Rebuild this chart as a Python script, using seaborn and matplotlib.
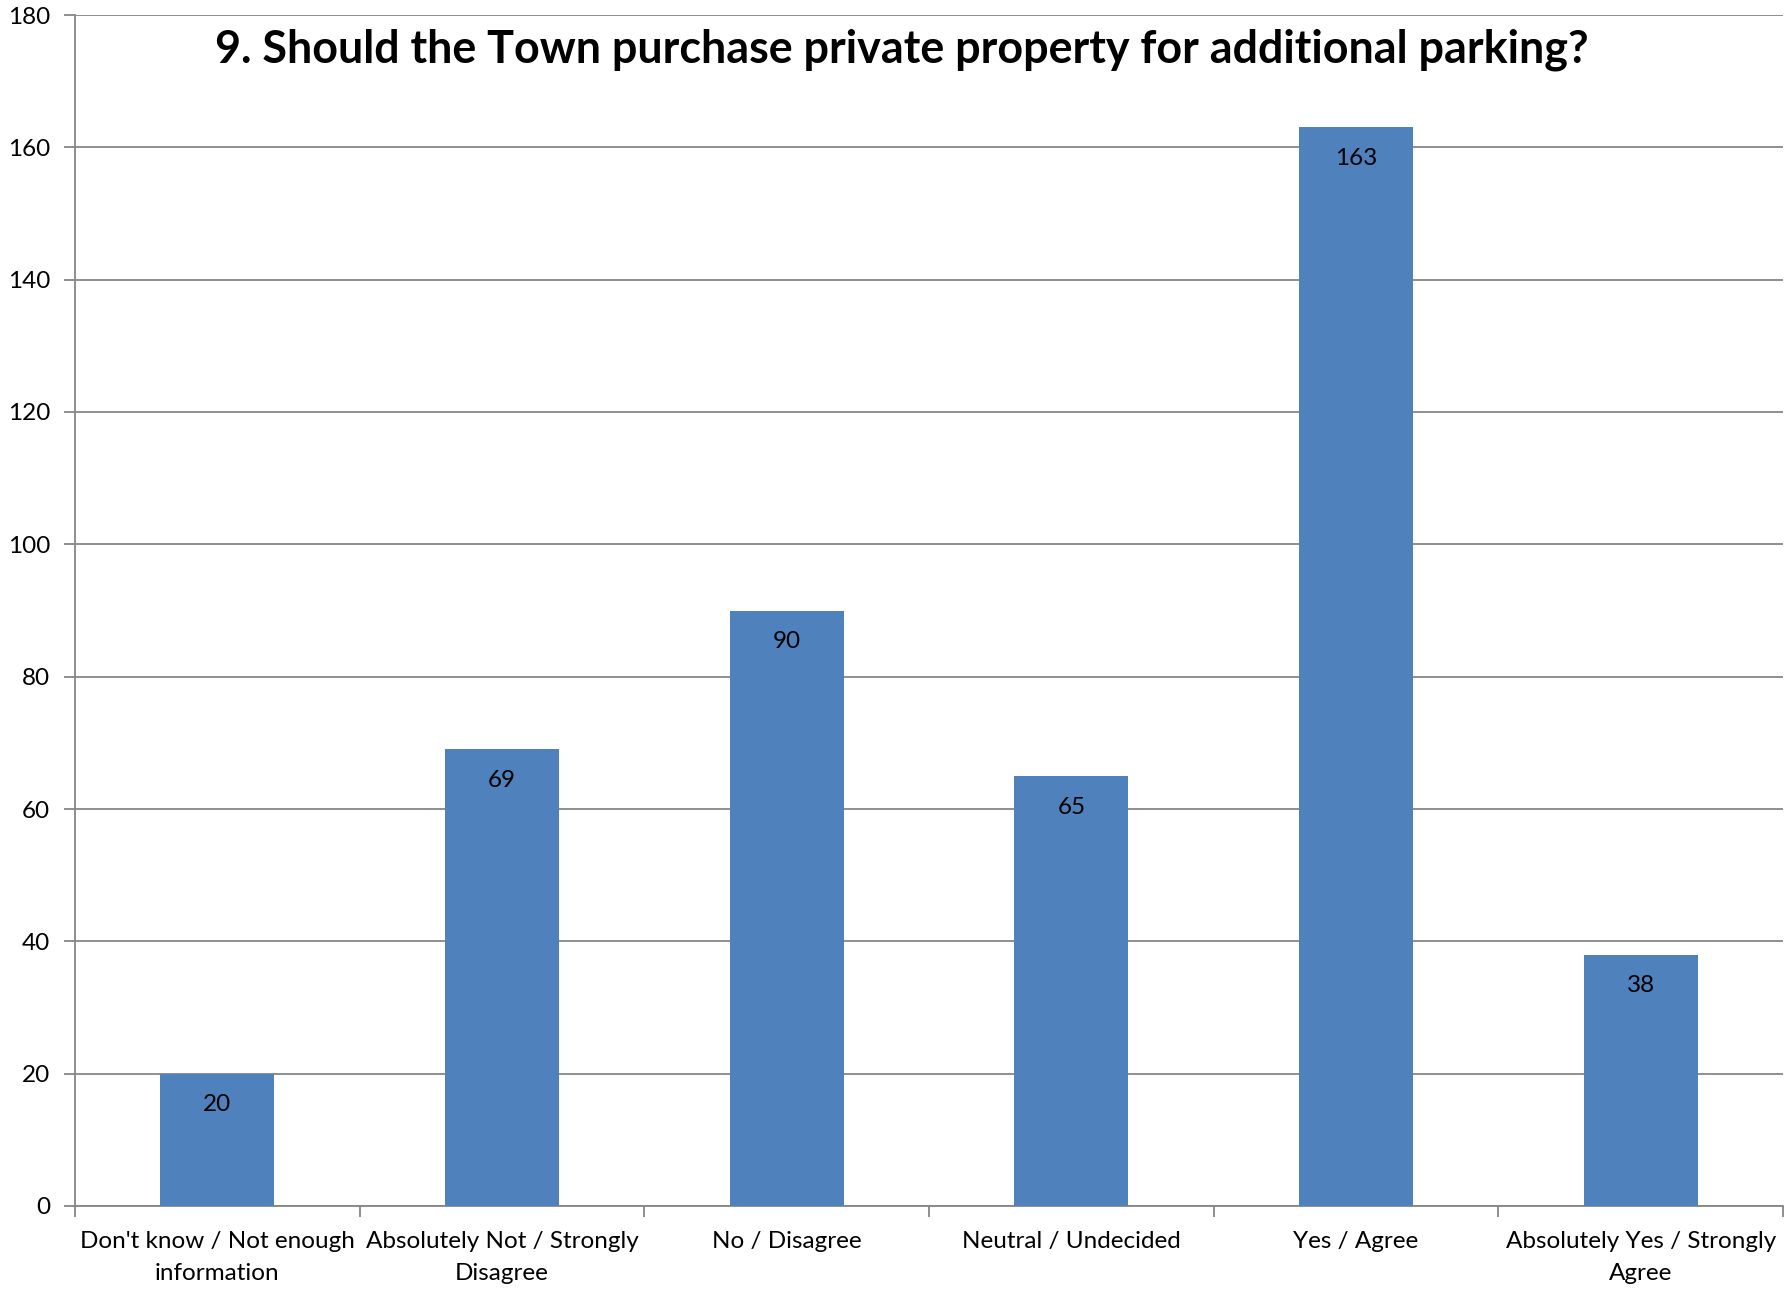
"""Survey question 9: bar chart of responses on buying private property for parking."""
import matplotlib
matplotlib.use("Agg")
import matplotlib.pyplot as plt
import pandas as pd
import seaborn as sns

categories = [
    "Don't know / Not enough\ninformation",
    "Absolutely Not / Strongly\nDisagree",
    "No / Disagree",
    "Neutral / Undecided",
    "Yes / Agree",
    "Absolutely Yes / Strongly\nAgree",
]
counts = [20, 69, 90, 65, 163, 38]
y_ticks = [0, 20, 40, 60, 80, 100, 120, 140, 160, 180]

title = "9. Should the Town purchase private property for additional parking?"

sns.set_theme(style="white")
plt.rcParams["font.family"] = ["Lato", "DejaVu Sans"]
plt.rcParams["text.color"] = "black"
plt.rcParams["xtick.color"] = "black"
plt.rcParams["ytick.color"] = "black"

BAR = "#4F81BD"
GRID = "#868686"
FS = 17.5

df = pd.DataFrame({"answer": categories, "count": counts})

fig = plt.figure(figsize=(17.84, 13.02), dpi=100)
ax = fig.add_axes([75 / 1784, 1 - 1206 / 1302, (1783 - 75) / 1784, (1206 - 15) / 1302])

sns.barplot(data=df, x="answer", y="count", color=BAR, width=0.4,
            saturation=1, linewidth=0, ax=ax, zorder=3)

ax.set_ylim(0, 180)
ax.set_xlim(-0.5, len(categories) - 0.5)
ax.set_yticks(y_ticks)
ax.yaxis.grid(True, color=GRID, linewidth=1.3, zorder=0)
ax.set_axisbelow(True)
ax.set_xlabel("")
ax.set_ylabel("")

for side in ["top", "right"]:
    ax.spines[side].set_visible(False)
for side in ["left", "bottom"]:
    ax.spines[side].set_color(GRID)
    ax.spines[side].set_linewidth(1.3)

ax.tick_params(axis="y", which="major", left=True, length=8, width=1.3,
               color=GRID, labelcolor="black", labelsize=FS, pad=10)
ax.tick_params(axis="x", which="major", length=0, labelcolor="black",
               labelsize=FS, pad=18)
ax.set_xticks([i - 0.5 for i in range(len(categories) + 1)], minor=True)
ax.tick_params(axis="x", which="minor", bottom=True, length=8, width=1.3,
               color=GRID)
for lbl in ax.get_xticklabels():
    lbl.set_linespacing(1.62)
    lbl.set_ha("center")
    lbl.set_va("top")

for i, v in enumerate(counts):
    ax.text(i, v - 4.7, str(v), ha="center", va="center", fontsize=FS,
            color="black", zorder=4)

fig.text(902 / 1784, 1 - 50 / 1302, title, ha="center", va="center",
         fontsize=32.3, fontweight="bold", color="black")

fig.savefig("out.png", dpi=100)
